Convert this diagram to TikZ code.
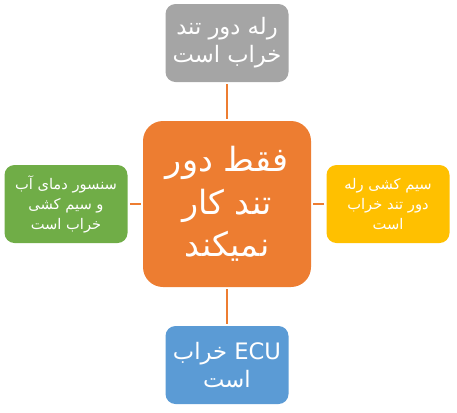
\documentclass[tikz,border=0pt]{standalone}
\usepackage{fontspec}
\TeXXeTstate=1
\newfontfamily\arabicfont[Script=Arabic]{DejaVu Sans}
\definecolor{cgray}{HTML}{A5A5A5}
\definecolor{corange}{HTML}{ED7D31}
\definecolor{cgreen}{HTML}{70AD47}
\definecolor{cyellow}{HTML}{FFC000}
\definecolor{cblue}{HTML}{5B9BD5}
\tikzset{
  box/.style={rounded corners=7.5pt, text=white, align=center, inner sep=0pt,
    minimum width=92.25pt, minimum height=58.5pt},
  bigbox/.style={box, rounded corners=15pt, minimum width=126pt, minimum height=124.5pt,
    font=\arabicfont\fontsize{25}{32}\selectfont},
  midtext/.style={font=\arabicfont\fontsize{17}{21}\selectfont},
  smalltext/.style={font=\arabicfont\fontsize{11}{15}\selectfont},
  link/.style={draw=corange, line width=1.1pt, shorten <=1.5pt, shorten >=1.5pt}
}
\begin{document}
\begin{tikzpicture}[x=0.75pt,y=-0.75pt]
\useasboundingbox (0,0) rectangle (457,412);
\node[bigbox, fill=corange] (c) at (227,204) {\beginR فقط دور\endR\\ \beginR تند کار\endR\\ \beginR نمیکند\endR};
\node[box, midtext, fill=cgray] (t) at (227,43) {\beginR رله دور تند\endR\\ \beginR خراب است\endR};
\node[box, smalltext, fill=cgreen] (l) at (66,204) {\beginR سنسور دمای آب\endR\\ \beginR و سیم کشی\endR\\ \beginR خراب است\endR};
\node[box, smalltext, fill=cyellow] (r) at (388,204) {\beginR سیم کشی رله\endR\\ \beginR دور تند خراب\endR\\ \beginR است\endR};
\node[box, midtext, fill=cblue] (b) at (227,365) {\beginR\beginL ECU\endL{} خراب\endR\\ \beginR است\endR};
\draw[link] (t) -- (c);
\draw[link] (l) -- (c);
\draw[link] (r) -- (c);
\draw[link] (b) -- (c);
\end{tikzpicture}
\end{document}
